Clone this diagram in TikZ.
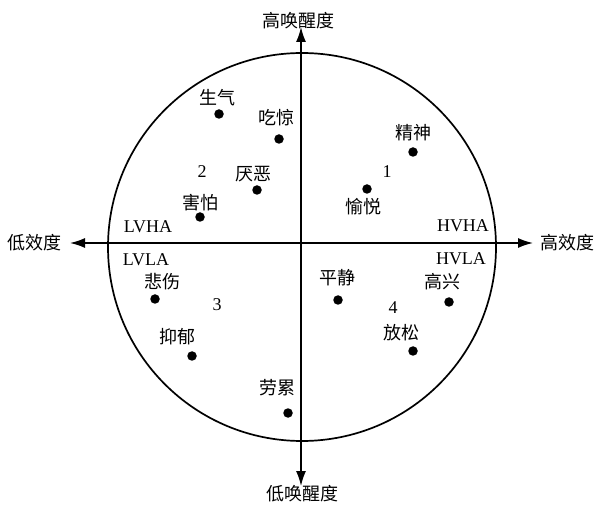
\documentclass[tikz,border=0pt]{standalone}
\usepackage{fontspec}
\setmainfont{Liberation Serif}
\newfontfamily\cjk{Noto Sans CJK SC}
\usetikzlibrary{arrows.meta}
\begin{document}
\begin{tikzpicture}[x=1pt,y=-1pt,
  axis/.style={line width=1.5pt,-{Latex[length=15pt,width=10pt]}},
  emo/.style={font=\cjk\fontsize{18}{20}\selectfont,inner sep=0pt},
  lat/.style={font=\fontsize{18}{20}\selectfont,inner sep=0pt},
  pt/.style={circle,fill=black,inner sep=0pt,minimum size=9.5pt}]
\useasboundingbox (0,0) rectangle (595,505);
\node[draw,circle,line width=1.7pt,minimum size=388pt,inner sep=0pt] (circ) at (302,247) {};
\coordinate (c) at (301,243);
\coordinate (L) at (70,243);
\coordinate (R) at (533,243);
\coordinate (T) at (301,27);
\coordinate (B) at (301,486);
\draw[axis] (c) -- (L);
\draw[axis] (c) -- (R);
\draw[axis] (c) -- (T);
\draw[axis] (c) -- (B);
\node[emo] (xl) at (35,243) {低效度};
\node[emo] (xr) at (567,243) {高效度};
\node[emo] (yt) at (298,21) {高唤醒度};
\node[emo] (yb) at (302,494) {低唤醒度};
\node[lat] (q1) at (387,172) {1};
\node[lat] (q2) at (202,172) {2};
\node[lat] (q3) at (217,305) {3};
\node[lat] (q4) at (393,308) {4};
\node[lat] (lvha) at (148,227) {LVHA};
\node[lat] (lvla) at (146,260) {LVLA};
\node[lat] (hvha) at (463,226) {HVHA};
\node[lat] (hvla) at (461,259) {HVLA};
% quadrant 2
\node[emo] (t1) at (217,98) {生气};   \node[pt] (d1) at (219,114) {};
\node[emo] (t2) at (276,118) {吃惊};  \node[pt] (d2) at (279,139) {};
\node[emo] (t3) at (253,174) {厌恶};  \node[pt] (d3) at (257,190) {};
\node[emo] (t4) at (200,203) {害怕};  \node[pt] (d4) at (200,217) {};
% quadrant 1
\node[emo] (t5) at (413,133) {精神};  \node[pt] (d5) at (413,152) {};
\node[emo] (t6) at (363,207) {愉悦};  \node[pt] (d6) at (367,189) {};
% quadrant 3
\node[emo] (t7) at (162,282) {悲伤};  \node[pt] (d7) at (155,299) {};
\node[emo] (t8) at (177,337) {抑郁};  \node[pt] (d8) at (192,356) {};
\node[emo] (t9) at (277,388) {劳累};  \node[pt] (d9) at (288,413) {};
% quadrant 4
\node[emo] (t10) at (337,278) {平静}; \node[pt] (d10) at (338,300) {};
\node[emo] (t11) at (442,282) {高兴}; \node[pt] (d11) at (449,302) {};
\node[emo] (t12) at (401,333) {放松}; \node[pt] (d12) at (413,351) {};
\end{tikzpicture}
\end{document}
